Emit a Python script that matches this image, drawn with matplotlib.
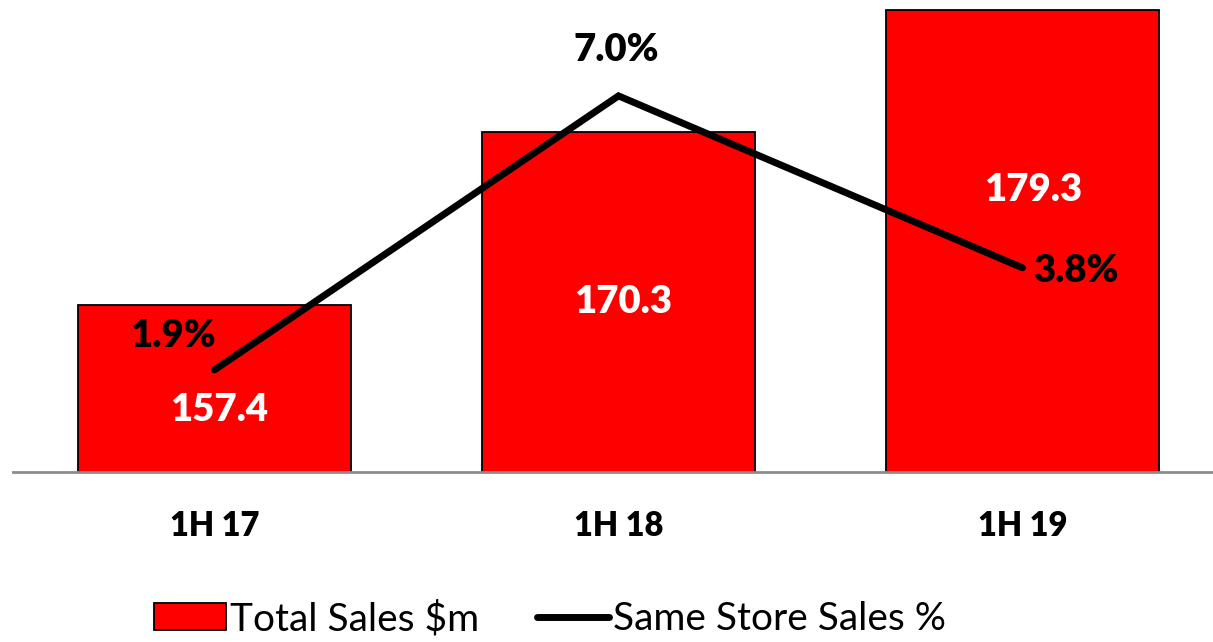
import matplotlib
matplotlib.use("Agg")
import matplotlib.pyplot as plt
from matplotlib.patches import Patch
from matplotlib.lines import Line2D

plt.rcParams['font.family'] = ['Lato', 'DejaVu Sans']

# Data
periods = ["1H 17", "1H 18", "1H 19"]
total_sales = [157.4, 170.3, 179.3]          # $m
same_store_sales = [1.9, 7.0, 3.8]           # %

# Label placement offsets (pixels) relative to the value position
bar_label_offsets = [(5, -21), (5, 0), (11, 51)]
pct_label_offsets = [(-42, 34), (-2, 46), (53, -3)]

W, H = 1213, 642
fig = plt.figure(figsize=(W / 100, H / 100), dpi=100)

x0_px, x1_px = 12.5, 1224.5
y_top_px, y_bot_px = 1.0, 472.0
ax = fig.add_axes([x0_px / W, 1 - y_bot_px / H,
                   (x1_px - x0_px) / W, (y_bot_px - y_top_px) / H])

x = list(range(len(periods)))
bars = ax.bar(x, total_sales, width=0.676, color="#ff0000",
              edgecolor="black", linewidth=1.3, zorder=2)
ax.set_ylim(145, 180)
ax.set_xlim(-0.5, 2.5)

for spine in ["top", "right", "left"]:
    ax.spines[spine].set_visible(False)
ax.spines["bottom"].set_color("#8c8c8c")
ax.spines["bottom"].set_linewidth(2)
ax.spines["bottom"].set_zorder(3)
ax.set_yticks([])
ax.set_xticks(x)
ax.set_xticklabels(periods, fontsize=23.5, fontweight="heavy")
ax.tick_params(axis="x", length=0, pad=27)

# Value labels around the middle of each bar's visible part
ymin = ax.get_ylim()[0]
for xi, v, off in zip(x, total_sales, bar_label_offsets):
    ax.annotate(f"{v:.1f}", xy=(xi, (v + ymin) / 2), xytext=off,
                textcoords="offset pixels", ha="center", va="center",
                color="white", fontsize=27.5, fontweight="heavy", zorder=5)

ax2 = ax.twinx()
ax2.set_ylim(0, (y_bot_px - y_top_px) / 53.73)
ax2.plot(x, same_store_sales, color="black", linewidth=5,
         solid_capstyle="round", solid_joinstyle="miter", zorder=4)
ax2.axis("off")

for xi, v, off in zip(x, same_store_sales, pct_label_offsets):
    ax2.annotate(f"{v:.1f}%", xy=(xi, v), xytext=off,
                 textcoords="offset pixels", ha="center", va="center",
                 color="black", fontsize=27.5, fontweight="heavy", zorder=6)

handles = [
    Patch(facecolor="#ff0000", edgecolor="black", linewidth=1.3,
          label="Total Sales $m"),
    Line2D([0], [0], color="black", linewidth=5, solid_capstyle="round",
           label="Same Store Sales %"),
]
fig.legend(handles=handles, loc="center", bbox_to_anchor=(550 / W, 1 - 619 / H),
           ncol=2, frameon=False, fontsize=28, handlelength=1.85,
           handleheight=0.67, handletextpad=0.1, columnspacing=1.5,
           borderaxespad=0)

fig.savefig("out.png", dpi=100)
